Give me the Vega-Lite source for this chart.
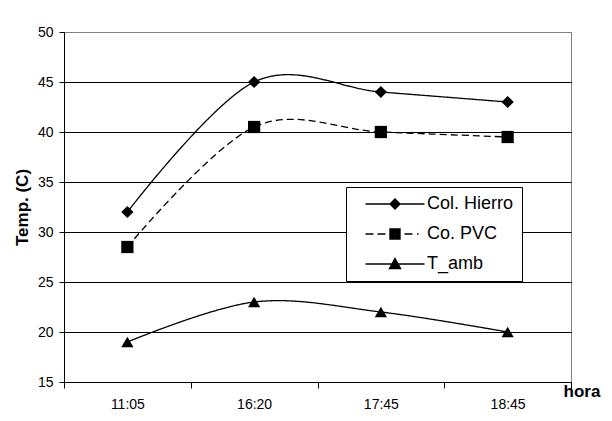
{
  "$schema": "https://vega.github.io/schema/vega-lite/v6.json",
  "width": 507,
  "height": 350,
  "autosize": {"type": "none"},
  "padding": {"left": 64, "top": 32, "right": 41, "bottom": 39},
  "background": "white",
  "config": {
    "font": "Liberation Sans",
    "view": {"stroke": "#808080", "strokeWidth": 1}
  },
  "data": {
    "values": [
      {"hora": "11:05", "serie": "Col. Hierro", "temp": 32},
      {"hora": "16:20", "serie": "Col. Hierro", "temp": 45},
      {"hora": "17:45", "serie": "Col. Hierro", "temp": 44},
      {"hora": "18:45", "serie": "Col. Hierro", "temp": 43},
      {"hora": "11:05", "serie": "Co. PVC", "temp": 28.5},
      {"hora": "16:20", "serie": "Co. PVC", "temp": 40.5},
      {"hora": "17:45", "serie": "Co. PVC", "temp": 40},
      {"hora": "18:45", "serie": "Co. PVC", "temp": 39.5},
      {"hora": "11:05", "serie": "T_amb", "temp": 19},
      {"hora": "16:20", "serie": "T_amb", "temp": 23},
      {"hora": "17:45", "serie": "T_amb", "temp": 22},
      {"hora": "18:45", "serie": "T_amb", "temp": 20}
    ]
  },
  "encoding": {
    "x": {
      "field": "hora",
      "type": "ordinal",
      "sort": ["11:05", "16:20", "17:45", "18:45"],
      "scale": {"type": "band", "paddingInner": 0, "paddingOuter": 0},
      "axis": {
        "title": "hora",
        "titleFont": "Liberation Sans",
        "titleFontSize": 17,
        "titleFontWeight": "bold",
        "titleColor": "black",
        "titleAnchor": "start",
        "titleAlign": "left",
        "titleBaseline": "alphabetic",
        "titleX": 499,
        "titleY": 14,
        "labelAngle": 0,
        "labelFontSize": 14,
        "labelColor": "black",
        "labelPadding": 9,
        "tickBand": "extent",
        "tickSize": 6,
        "tickColor": "black",
        "domainColor": "black",
        "grid": false
      }
    },
    "y": {
      "field": "temp",
      "type": "quantitative",
      "scale": {"domain": [15, 50], "nice": false, "zero": false},
      "axis": {
        "title": "Temp. (C)",
        "titleFont": "Liberation Sans",
        "titleFontSize": 17,
        "titleFontWeight": "bold",
        "titleColor": "black",
        "titleX": -33,
        "titleY": 175,
        "titleAngle": -90,
        "titleAlign": "center",
        "titleBaseline": "bottom",
        "values": [15, 20, 25, 30, 35, 40, 45, 50],
        "labelFontSize": 14,
        "labelColor": "black",
        "labelPadding": 6,
        "tickSize": 5,
        "tickColor": "black",
        "domainColor": "black",
        "grid": true,
        "gridColor": {"condition": {"test": "datum.value == 50", "value": "#808080"}, "value": "black"},
        "gridWidth": 1
      }
    }
  },
  "layer": [
    {
      "mark": {"type": "line", "interpolate": "cardinal", "color": "black", "strokeWidth": 1.3},
      "encoding": {
        "detail": {"field": "serie", "type": "nominal"},
        "strokeDash": {
          "condition": {"test": "datum.serie === 'Co. PVC'", "value": [7, 4]},
          "value": [1, 0]
        }
      }
    },
    {
      "mark": {"type": "point", "filled": true, "color": "black", "opacity": 1, "size": 150},
      "encoding": {
        "shape": {
          "condition": [
            {"test": "datum.serie === 'Col. Hierro'", "value": "diamond"},
            {"test": "datum.serie === 'Co. PVC'", "value": "square"}
          ],
          "value": "triangle-up"
        }
      }
    },
    {
      "mark": {"type": "point", "filled": false, "color": "black", "strokeWidth": 1.4, "opacity": 0, "size": 100},
      "encoding": {
        "shape": {
          "field": "serie",
          "type": "nominal",
          "scale": {
            "domain": ["Col. Hierro", "Co. PVC", "T_amb"],
            "range": [
              "M-5.9,0L5.9,0M-1,0L0,-1L1,0L0,1ZM-0.8,0L0,-0.8L0.8,0L0,0.8ZM-0.6,0L0,-0.6L0.6,0L0,0.6ZM-0.4,0L0,-0.4L0.4,0L0,0.4ZM-0.2,0L0,-0.2L0.2,0L0,0.2Z",
              "M-5.9,0L-4.3,0M-3.5,0L-1.9,0M1.9,0L3.5,0M4.4,0L4.7,0M-1,-1L1,-1L1,1L-1,1ZM-0.8,-0.8L0.8,-0.8L0.8,0.8L-0.8,0.8ZM-0.6,-0.6L0.6,-0.6L0.6,0.6L-0.6,0.6ZM-0.4,-0.4L0.4,-0.4L0.4,0.4L-0.4,0.4ZM-0.2,-0.2L0.2,-0.2L0.2,0.2L-0.2,0.2Z",
              "M-5.9,0L5.9,0M0,-1.1L1.1,0.9L-1.1,0.9ZM0,-0.833L0.88,0.767L-0.88,0.767ZM0,-0.567L0.66,0.633L-0.66,0.633ZM0,-0.3L0.44,0.5L-0.44,0.5ZM0,-0.033L0.22,0.367L-0.22,0.367Z"
            ]
          },
          "legend": {
            "orient": "none",
            "legendX": 282,
            "legendY": 155,
            "title": null,
            "strokeColor": "black",
            "fillColor": "white",
            "padding": 8,
            "labelFont": "Liberation Sans",
            "labelFontSize": 18,
            "labelColor": "black",
            "labelExpr": "datum.label + '\u00a0\u00a0\u00a0'",
            "symbolSize": 100,
            "symbolOffset": 32,
            "labelOffset": 23,
            "rowPadding": 12,
            "symbolStrokeWidth": 1.4,
            "symbolStrokeColor": "black",
            "symbolOpacity": 1
          }
        }
      }
    }
  ]
}
